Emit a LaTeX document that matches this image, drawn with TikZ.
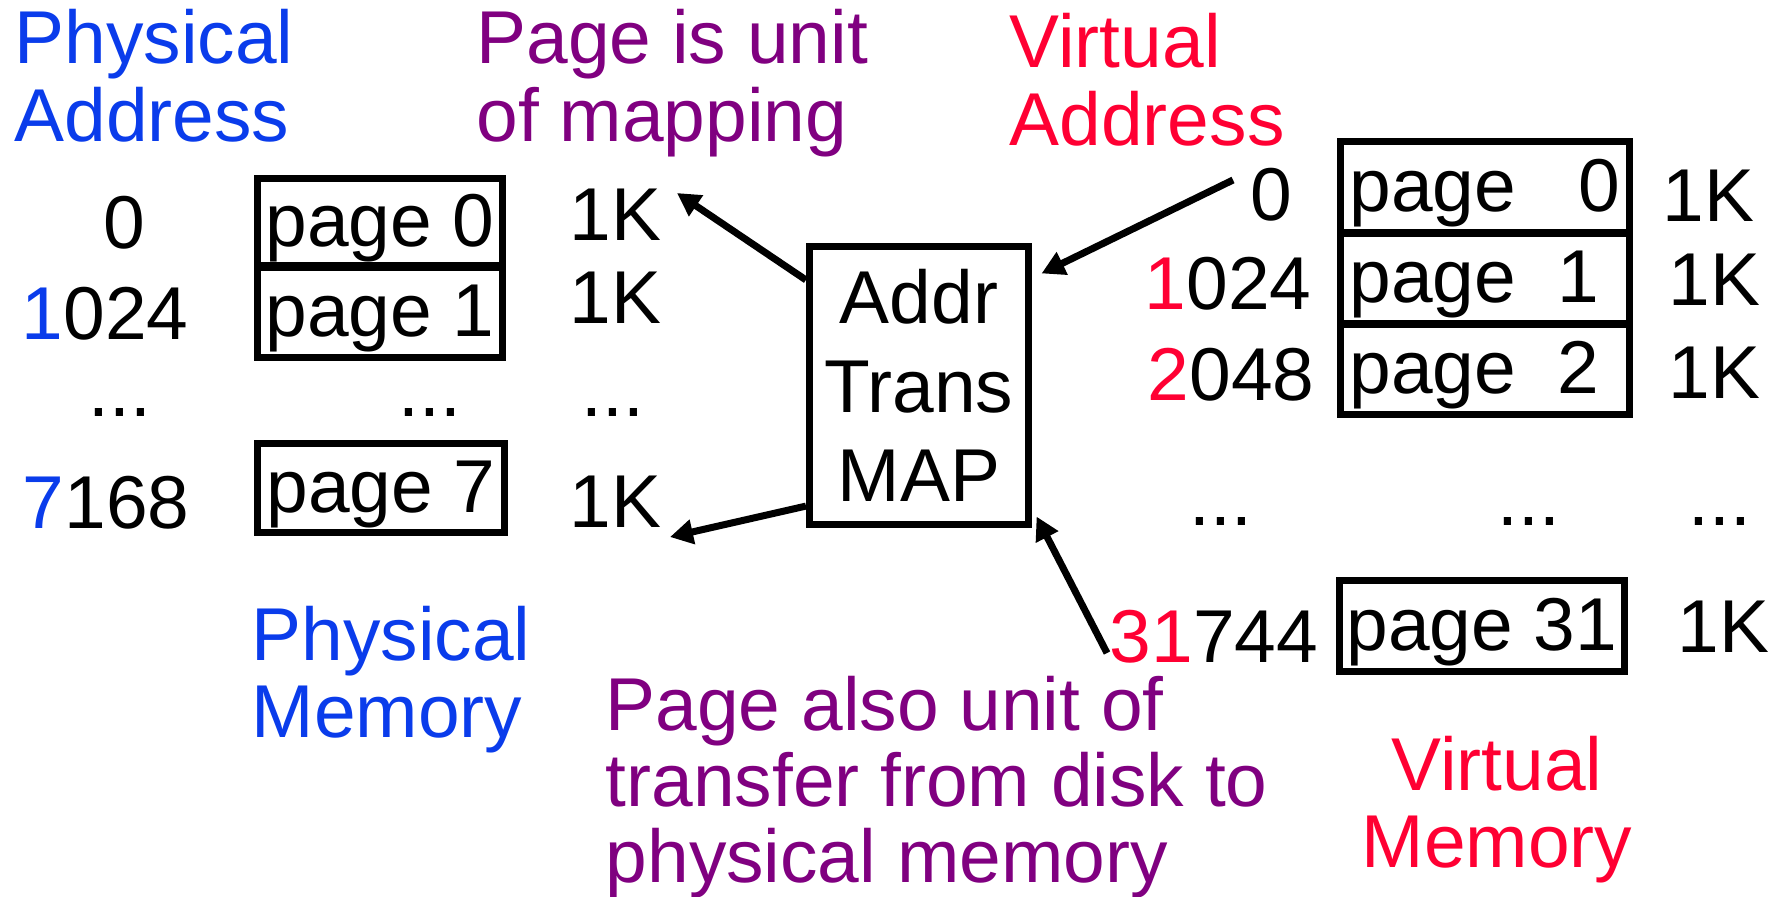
\documentclass[tikz,border=0pt]{standalone}
\usepackage{fontspec}
\setmainfont{Liberation Sans}
\usetikzlibrary{arrows.meta,calc}
\definecolor{pblue}{RGB}{10,60,235}
\definecolor{vred}{RGB}{255,0,51}
\definecolor{purp}{RGB}{128,0,128}
\newcommand{\bigfs}{\fontsize{21.3}{21.9}\selectfont}
\newcommand{\boxfs}{\fontsize{21.3}{25.3}\selectfont}
\newcommand{\lowfs}{\fontsize{21.3}{21.5}\selectfont}
\begin{document}
\begin{tikzpicture}[x=0.01cm,y=-0.01cm,
  txt/.style={inner sep=0pt, anchor=base west, font=\bigfs},
  pagebox/.style={draw, line width=0.07cm, inner sep=0pt, font=\bigfs, text height=0.54cm, text depth=0.06cm},
  conn/.style={line width=0.07cm, -{Triangle[length=0.23cm,width=0.24cm]}}]
\useasboundingbox (0,0) rectangle (1788,896);

% headings (anchor base = baseline of last line)
\node[txt, align=left, text=pblue] (physaddr) at (14,141) {Physical\\Address};
\node[txt, align=left, text=purp] (unitmap) at (476,141) {Page is unit\\of mapping};
\node[txt, align=left, text=vred] (virtaddr) at (1009,145) {Virtual\\Address};

% physical addresses
\node[txt] (pa0) at (103,248) {0};
\node[txt] (pa1) at (21,339) {{\color{pblue}1}024};
\node[txt] (padots) at (88,416) {...};
\node[txt] (pa7) at (22,528) {{\color{pblue}7}168};

% physical pages
\node[pagebox, minimum width=2.45cm, minimum height=0.87cm] (pp0) at (380,222) {page 0};
\node[pagebox, minimum width=2.45cm, minimum height=0.90cm] (pp1) at (380,312.5) {page 1};
\node[txt] (ppdots) at (398,416) {...};
\node[pagebox, minimum width=2.47cm, minimum height=0.89cm] (pp7) at (381,488) {page 7};

% physical sizes
\node[txt] (pk0) at (569,240) {1K};
\node[txt] (pk1) at (569,323) {1K};
\node[txt] (pkdots) at (581,416) {...};
\node[txt] (pk7) at (569,527) {1K};

% translation map
\node[draw, line width=0.07cm, inner sep=0pt, minimum width=2.19cm, minimum height=2.78cm,
      align=center, font=\boxfs] (addr) at (919,385.5) {Addr\\Trans\\MAP};

% virtual addresses
\node[txt] (va0) at (1250,220) {0};
\node[txt] (va1) at (1144,309) {{\color{vred}1}024};
\node[txt] (va2) at (1147,400) {{\color{vred}2}048};
\node[txt] (vadots) at (1189,525) {...};
\node[txt] (va31) at (1109,662) {{\color{vred}31}744};

% virtual pages
\node[pagebox, minimum width=2.895cm, minimum height=0.90cm] (vp0) at (1485,187) {\makebox[2.71cm][l]{page\ \ \ 0}};
\node[pagebox, minimum width=2.895cm, minimum height=0.89cm] (vp1) at (1485,278.5) {\makebox[2.71cm][l]{page\ \ 1}};
\node[pagebox, minimum width=2.895cm, minimum height=0.89cm] (vp2) at (1485,369.5) {\makebox[2.71cm][l]{page\ \ 2}};
\node[txt] (vpdots) at (1497,525) {...};
\node[pagebox, minimum width=2.845cm, minimum height=0.905cm] (vp31) at (1482,626) {page 31};

% virtual sizes
\node[txt] (vk0) at (1662,221) {1K};
\node[txt] (vk1) at (1668,305) {1K};
\node[txt] (vk2) at (1668,398) {1K};
\node[txt] (vkdots) at (1688,525) {...};
\node[txt] (vk31) at (1677,652) {1K};

% bottom captions
\node[txt, align=left, text=pblue] (physmem) at (251,737) {Physical\\Memory};
\node[txt, align=left, text=purp, font=\lowfs] (transfer) at (605,882) {Page also unit of\\transfer from disk to\\physical memory};
\node[inner sep=0pt, anchor=base, align=center, text=vred, font=\bigfs] (virtmem) at (1497,867) {Virtual\\Memory};

% connectors
\coordinate (t1) at (677,193);
\coordinate (t2) at (670,537);
\coordinate (s3) at (1233,180);
\coordinate (s4) at (1107,653);
\draw[conn] ([yshift=1.055cm]addr.west) -- (t1);
\draw[conn] ([yshift=-1.205cm]addr.west) -- (t2);
\draw[conn] (s3) -- ([xshift=0.095cm,yshift=-0.305cm]addr.north east);
\draw[conn] (s4) -- ([xshift=0.045cm,yshift=0.115cm]addr.south east);
\end{tikzpicture}
\end{document}
